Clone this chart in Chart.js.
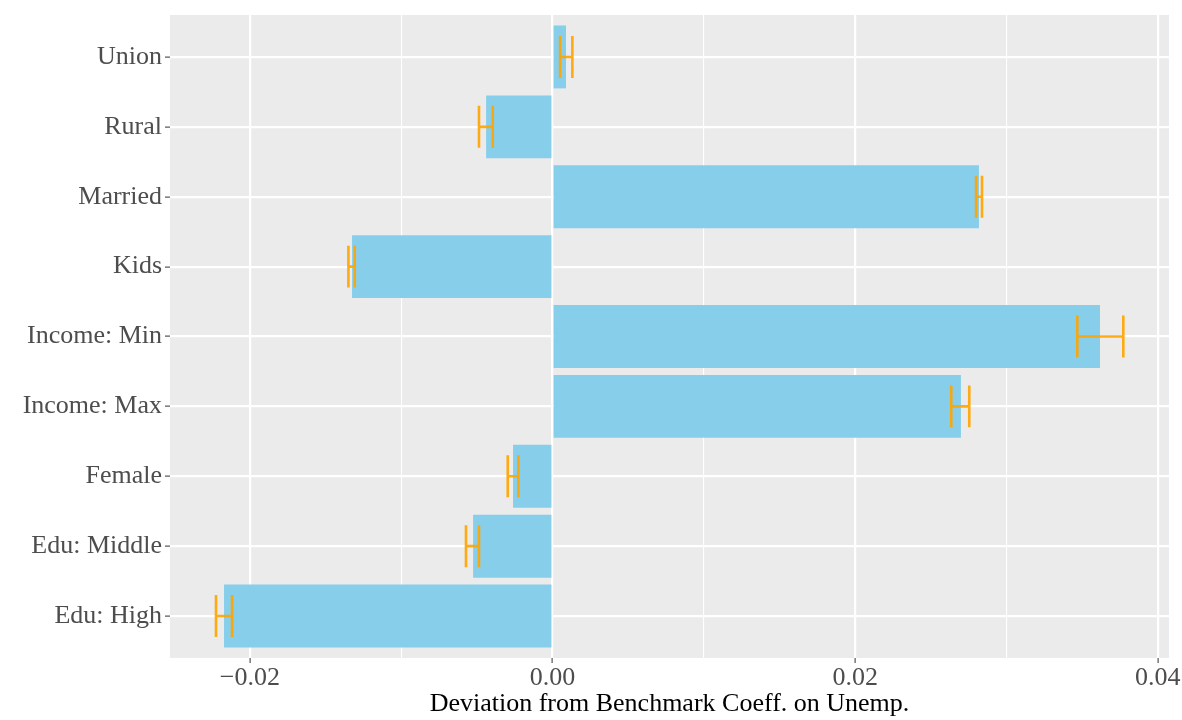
<!DOCTYPE html>
<html>
<head>
<meta charset="utf-8">
<script src="https://cdn.jsdelivr.net/npm/chart.js@4"></script>
<style>
  html, body { margin: 0; padding: 0; background: #fff; }
  #wrap { width: 1182px; height: 720px; }
</style>
</head>
<body>
<div id="wrap"><canvas id="chart"></canvas></div>
<script>
// data, top to bottom
var labels = ['Union', 'Rural', 'Married', 'Kids', 'Income: Min', 'Income: Max', 'Female', 'Edu: Middle', 'Edu: High'];
var deviation = [0.00089, -0.00439, 0.02818, -0.01325, 0.03618, 0.02699, -0.00261, -0.00525, -0.02171];
var errLow = [0.00050, -0.00486, 0.02799, -0.01349, 0.03468, 0.02635, -0.00296, -0.00572, -0.02224];
var errHigh = [0.00131, -0.00395, 0.02838, -0.01307, 0.03772, 0.02754, -0.00226, -0.00486, -0.02118];
var xTicks = [-0.02, -0.01, 0, 0.01, 0.02, 0.03, 0.04];
var xMajor = [-0.02, 0, 0.02, 0.04];

var FONT = "'Liberation Serif', 'Times New Roman', serif";

function isMajor(v) {
    return xMajor.some(function (m) { return Math.abs(m - v) < 1e-9; });
}

// grey panel behind the plot
var panelBg = {
    id: 'panelBg',
    beforeDraw: function (chart) {
        var a = chart.chartArea, c = chart.ctx;
        c.save();
        c.fillStyle = '#EBEBEB';
        c.fillRect(a.left, a.top, a.right - a.left, a.bottom - a.top);
        c.restore();
    }
};

// orange error bars on top of the bars
var errorBars = {
    id: 'errorBars',
    afterDatasetsDraw: function (chart) {
        var xs = chart.scales.x, ys = chart.scales.y, c = chart.ctx;
        var half = Math.abs(ys.getPixelForValue(0.3) - ys.getPixelForValue(0));
        c.save();
        c.strokeStyle = 'rgba(255,165,0,0.92)';
        c.lineWidth = 2.6;
        for (var i = 0; i < labels.length; i++) {
            var x1 = xs.getPixelForValue(errLow[i]);
            var x2 = xs.getPixelForValue(errHigh[i]);
            var y = ys.getPixelForValue(i);
            c.beginPath();
            c.moveTo(x1, y); c.lineTo(x2, y);
            c.moveTo(x1, y - half); c.lineTo(x1, y + half);
            c.moveTo(x2, y - half); c.lineTo(x2, y + half);
            c.stroke();
        }
        c.restore();
    }
};

var ctx = document.getElementById('chart');

new Chart(ctx, {
    type: 'bar',
    data: {
        datasets: [{
            data: deviation.map(function (v, i) { return { x: v, y: i }; }),
            backgroundColor: '#87CEEB',
            borderWidth: 0,
            barPercentage: 0.9,
            categoryPercentage: 1.0
        }]
    },
    options: {
        indexAxis: 'y',
        responsive: true,
        maintainAspectRatio: false,
        animation: false,
        layout: { padding: { top: 15, right: 13, left: 0, bottom: 0 } },
        plugins: {
            legend: { display: false },
            tooltip: { enabled: false }
        },
        scales: {
            x: {
                type: 'linear',
                min: -0.02528,
                max: 0.04074,
                afterBuildTicks: function (scale) {
                    scale.ticks = xTicks.map(function (v) { return { value: v }; });
                },
                afterFit: function (scale) {
                    scale.height = 62;
                    scale.paddingLeft = 0;
                    scale.paddingRight = 0;
                },
                border: { display: false },
                grid: {
                    color: '#FFFFFF',
                    lineWidth: function (c) { return isMajor(c.tick.value) ? 2.2 : 1.1; },
                    drawTicks: true,
                    tickLength: 5,
                    tickColor: function (c) { return isMajor(c.tick.value) ? '#333333' : 'rgba(0,0,0,0)'; },
                    tickWidth: 1
                },
                ticks: {
                    autoSkip: false,
                    maxRotation: 0,
                    padding: 0,
                    color: '#4D4D4D',
                    font: { family: FONT, size: 26 },
                    callback: function (v) {
                        if (!isMajor(v)) return '';
                        var s = Math.abs(v).toFixed(2);
                        return v < -1e-9 ? '\u2212' + s : s;
                    }
                },
                title: {
                    display: true,
                    text: 'Deviation from Benchmark Coeff. on Unemp.',
                    color: '#000000',
                    font: { family: FONT, size: 26 },
                    padding: { top: 0, bottom: 0 }
                }
            },
            y: {
                type: 'linear',
                reverse: true,
                offset: false,
                min: -0.6,
                max: labels.length - 1 + 0.6,
                afterBuildTicks: function (scale) {
                    scale.ticks = labels.map(function (l, i) { return { value: i }; });
                },
                afterFit: function (scale) {
                    scale.width = 170;
                    scale.paddingTop = 0;
                    scale.paddingBottom = 0;
                },
                border: { display: false },
                grid: {
                    offset: false,
                    color: '#FFFFFF',
                    lineWidth: 2.2,
                    drawTicks: true,
                    tickLength: 5,
                    tickColor: '#333333',
                    tickWidth: 1
                },
                ticks: {
                    autoSkip: false,
                    padding: 3,
                    color: '#4D4D4D',
                    font: { family: FONT, size: 26 },
                    callback: function (v) { return labels[v]; }
                }
            }
        }
    },
    plugins: [panelBg, errorBars]
});
</script>
</body>
</html>
